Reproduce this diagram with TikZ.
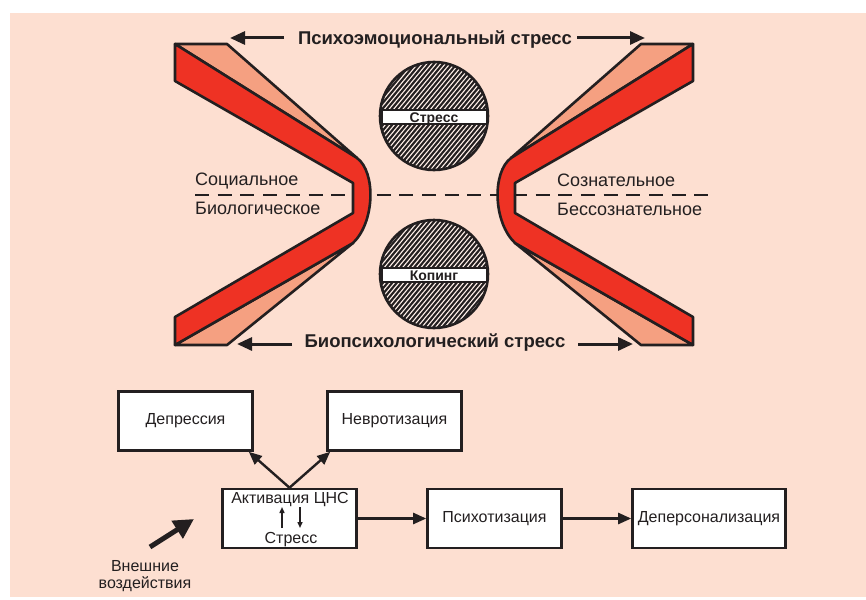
\documentclass[tikz,border=0pt]{standalone}
\usepackage{fontspec}
\setmainfont{Liberation Sans}
\usetikzlibrary{arrows.meta,calc}
\definecolor{bg}{HTML}{FDDFD1}
\definecolor{ink}{HTML}{231F20}
\definecolor{bandred}{HTML}{EE3224}
\definecolor{salmon}{HTML}{F5A081}
\begin{document}
\begin{tikzpicture}[x=1pt,y=-1pt,
  box/.style={draw=ink, line width=2.6pt, fill=white, inner sep=0pt, minimum width=134pt, minimum height=59pt, font=\fontsize{16}{19}\selectfont, text=ink},
  boxtext/.style={font=\fontsize{16}{19}\selectfont, text=ink, inner sep=0pt},
  flow/.style={draw=ink, line width=2.4pt, -{Triangle[length=13pt,width=11pt]}},
  smallarrow/.style={draw=ink, line width=1.4pt, -{Triangle[length=6pt,width=5pt]}},
  bigarrow/.style={draw=ink, line width=5pt, -{Triangle[length=20pt,width=20pt]}},
  headtext/.style={font=\bfseries\fontsize{18.5}{22}\selectfont, text=ink, inner sep=0pt},
  sidetext/.style={font=\fontsize{18}{21}\selectfont, text=ink, inner sep=0pt, anchor=base west},
  bandpart/.style={draw=ink, line width=2.6pt, line join=round},
  tarrow/.style={draw=ink, line width=3pt, -{Triangle[length=15pt,width=13pt]}},
  discband/.style={draw=ink, line width=2pt, fill=white, minimum width=105pt, minimum height=14.5pt, inner sep=0pt, text height=10pt, text depth=0pt, font=\bfseries\fontsize{14}{16}\selectfont, text=ink}
]
\useasboundingbox (0,0) rectangle (866,599);
\fill[white] (0,0) rectangle (866,599);
\fill[bg] (10,13) rectangle (866,597);

% dashed divider
\draw[ink, line width=2.5pt, dash pattern=on 14pt off 8.7pt] (195,195) -- (710,195);

% left and right bent bands
\foreach \sx/\ox in {1/0,-1/868}{
  \begin{scope}[shift={(\ox,0)}, xscale=\sx]
    \filldraw[bandpart, fill=salmon] (175,44) -- (227,44) -- (357,158) -- cycle;
    \filldraw[bandpart, fill=salmon] (175,345) -- (227,345) -- (353,243) -- cycle;
    \filldraw[bandpart, fill=bandred] (175,44) -- (357,158) .. controls (376,172) and (375,222) .. (353,243) -- (175,345) -- (175,317) -- (353,213) -- (353,183) -- (175,81) -- cycle;
  \end{scope}
}

% hatched discs
\foreach \cy/\nm/\txt in {116/str/Стресс, 274/cop/Копинг}{
  \begin{scope}
    \clip (434,\cy) circle (54pt);
    \fill[ink] (434,\cy) circle (54pt);
    \foreach \k in {-30,...,30}
      \draw[bg!50!white, line width=1.1pt] (434+\k*4.6-50,\cy+60) -- (434+\k*4.6+50,\cy-60);
  \end{scope}
  \draw[ink, line width=2.6pt] (434,\cy) circle (54pt);
  \node[discband] (\nm) at (434,\cy+1) {\txt};
}

% titles with arrows
\node[headtext, anchor=base] (toptitle) at (435,45) {Психоэмоциональный стресс};
\coordinate (tl0) at (284,38); \coordinate (tl1) at (230,38);
\coordinate (tr0) at (577,38); \coordinate (tr1) at (645,38);
\draw[tarrow] (tl0) -- (tl1);
\draw[tarrow] (tr0) -- (tr1);

\node[headtext, anchor=base] (bottitle) at (435,347) {Биопсихологический стресс};
\coordinate (bl0) at (292,344); \coordinate (bl1) at (237,344);
\coordinate (br0) at (578,344); \coordinate (br1) at (633,344);
\draw[tarrow] (bl0) -- (bl1);
\draw[tarrow] (br0) -- (br1);

% side labels
\node[sidetext] (soc) at (195,185) {Социальное};
\node[sidetext] (bio) at (195,214) {Биологическое};
\node[sidetext] (soz) at (557,186) {Сознательное};
\node[sidetext] (bes) at (557,215) {Бессознательное};

% flowchart
\node[box] (dep) at (185.5,421) {Депрессия};
\node[box] (nev) at (394.5,421) {Невротизация};
\node[box] (act) at (289.5,518.5) {};
\node[box] (psy) at (494.5,518.5) {Психотизация};
\node[box, minimum width=153pt] (dpr) at (709,518.5) {Деперсонализация};

\node[boxtext, anchor=base] (actt) at (290,503) {Активация ЦНС};
\node[boxtext, anchor=base] (acts) at (291,543) {Стресс};
\coordinate (u0) at (282,528); \coordinate (u1) at (282,507);
\coordinate (d0) at (300,507); \coordinate (d1) at (300,528);
\draw[smallarrow] (u0) -- (u1);
\draw[smallarrow] (d0) -- (d1);

\draw[flow] (act.north) -- ($(dep.south east)+(-5,0)$);
\draw[flow] (act.north) -- ($(nev.south west)+(4,0)$);
\draw[flow] (act.east) -- (psy.west);
\draw[flow] (psy.east) -- (dpr.west);

\coordinate (ext0) at (150,547); \coordinate (ext1) at (194,519);
\draw[bigarrow] (ext0) -- (ext1);
\node[boxtext, align=center, font=\fontsize{16}{17}\selectfont] (ext) at (145,576) {Внешние\\воздействия};
\end{tikzpicture}
\end{document}
